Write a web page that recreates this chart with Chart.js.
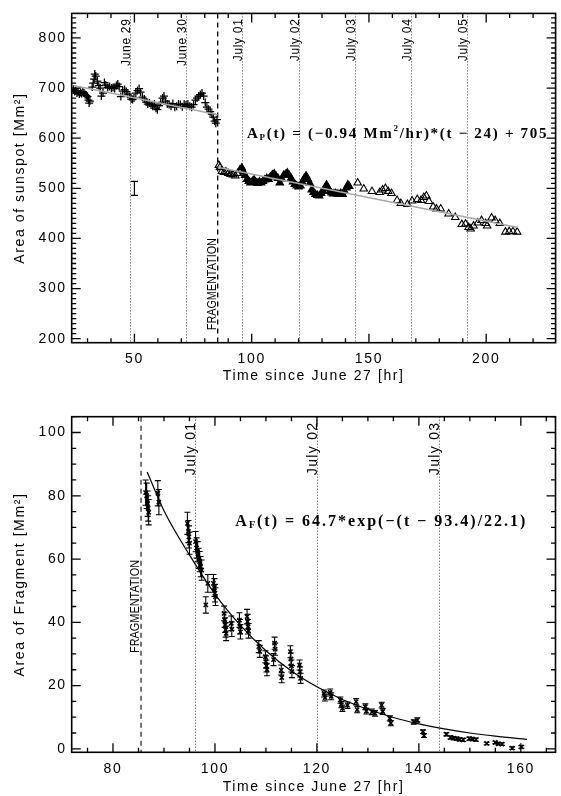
<!DOCTYPE html>
<html>
<head>
<meta charset="utf-8">
<script src="https://cdn.jsdelivr.net/npm/chart.js@4.4.1/dist/chart.umd.min.js"></script>
<style>
  html, body { margin: 0; padding: 0; background: #fff; }
  #wrap { position: relative; width: 561px; height: 796px; }
  .box { position: absolute; left: 0; width: 561px; }
  #top { top: 0; height: 385px; }
  #bot { top: 385px; height: 411px; }
</style>
</head>
<body>
<div id="wrap">
  <div class="box" id="top"><canvas id="c1"></canvas></div>
  <div class="box" id="bot"><canvas id="c2"></canvas></div>
</div>
<script>
// --- top panel: whole sunspot before fragmentation (crosses) ---
var spotT = [24.0, 24.5, 25.0, 25.5, 26.0, 26.5, 27.0, 27.5, 28.0, 28.5, 29.0, 29.5, 30.0, 30.4, 30.7, 31.0,
  32.0, 32.4, 32.8, 33.1, 33.5, 34.2, 34.8, 35.4, 35.9, 36.6, 37.2, 37.8, 38.6, 39.4, 40.2, 40.9, 41.6,
  42.3, 42.9, 43.5, 44.2, 45.0, 45.8, 46.5, 47.2, 48.0, 48.6, 49.2, 49.8, 50.6, 51.3, 52.0, 52.6, 53.4,
  54.2, 55.0, 55.7, 56.4, 57.1, 57.8, 58.5, 59.2, 59.8, 60.5, 61.2, 62.0, 62.6, 63.3, 64.0, 64.8, 65.6,
  66.4, 67.2, 68.0, 68.8, 69.6, 70.4, 71.2, 72.0, 72.8, 73.6, 74.4, 75.2, 76.0, 76.7, 77.4, 78.1, 78.8,
  79.5, 80.2, 80.9, 81.6, 82.3, 83.0, 83.6, 84.2, 84.7, 85.2];
var spotA = [698, 693, 695, 690, 692, 688, 691, 689, 693, 690, 687, 685, 683, 676, 670, 674,
  702, 710, 718, 728, 724, 714, 705, 700, 684, 690, 711, 706, 701, 703, 700, 701, 699,
  705, 708, 703, 683, 694, 697, 693, 688, 683, 678, 677, 680, 690, 695, 699, 692, 682,
  678, 672, 668, 670, 666, 664, 668, 660, 657, 665, 671, 680, 684, 674, 668, 667, 664,
  669, 662, 664, 668, 667, 663, 668, 666, 668, 664, 662, 667, 676, 680, 684, 687, 690,
  684, 671, 662, 658, 653, 648, 642, 634, 630, 637];

// --- top panel: remaining spot after fragmentation (triangles) ---
var fragT = [86.0, 86.5, 87.3, 88.2, 89.0, 90.0, 91.0, 92.0, 93.0, 94.0, 95.0, 95.8, 96.5, 97.2, 98.0,
  98.8, 99.5, 100.3, 101.0, 101.8, 102.5, 103.3, 104.0, 104.8, 105.6, 106.4, 107.2, 108.0, 108.8,
  109.6, 110.4, 111.2, 112.0, 112.8, 113.6, 114.4, 115.2, 116.0, 116.8, 117.6, 118.4, 119.2, 120.0,
  120.8, 121.6, 122.4, 123.2, 124.0, 124.8, 125.6, 126.4, 127.2, 128.0, 128.8, 129.6, 130.4, 131.2,
  131.9, 132.6, 133.3, 134.0, 134.8, 135.6, 136.4, 137.2, 138.0, 138.8, 139.6, 140.4, 141.0, 141.6,
  145.2, 147.8, 151.3, 154.6, 155.8, 157.0, 158.2, 159.6, 162.0, 163.6, 166.4, 168.4, 170.6, 172.2,
  173.4, 174.5, 175.6, 177.4, 178.8, 180.6, 184.0, 186.8, 189.6, 191.2, 192.5, 193.4, 194.6, 196.4,
  198.0, 199.8, 200.4, 202.3, 203.8, 205.8, 208.2, 209.8, 211.4, 213.2];
var fragA = [546, 542, 534, 532, 533, 530, 528, 527, 525, 530, 537, 541, 533, 526, 518,
  514, 511, 514, 517, 512, 510, 513, 511, 514, 517, 520, 518, 523, 527,
  529, 524, 520, 511, 519, 526, 528, 531, 526, 520, 513, 508, 505, 503,
  505, 512, 520, 525, 518, 510, 497, 492, 488, 486, 485, 490, 494, 500,
  507, 500, 494, 491, 489, 490, 489, 488, 490, 488, 494, 501, 507, 504,
  511, 499, 494, 492, 497, 500, 494, 490, 476, 470, 468, 475, 478, 476,
  482, 485, 474, 463, 459, 459, 449, 442, 428, 429, 422, 419, 425, 431,
  436, 430, 425, 441, 436, 430, 413, 414, 414, 413];

// straight-line fits (grey) and the typical error bar
var fitT1 = [24, 85.5], fitA1 = [705, 647];
var fitT2 = [85.5, 213.5], fitA2 = [542, 422];
var barT = [50, 50], barA = [486, 514];

// --- bottom panel: fragment area with error bars ---
var pieceT = [86.4, 86.6, 86.8, 86.9, 87.0, 88.8, 89.0, 94.6, 94.8, 94.9, 95.0, 96.2, 96.4, 96.6, 96.8,
  97.0, 97.2, 97.4, 98.2, 98.6, 99.7, 99.9, 100.0, 100.1, 101.8, 101.9, 102.0, 102.1, 102.2, 103.2,
  103.3, 104.8, 104.9, 105.0, 106.3, 106.4, 106.5, 106.6, 108.6, 108.8, 109.9, 110.0, 110.1, 110.2,
  111.5, 111.7, 111.8, 113.0, 113.1, 114.8, 114.9, 115.0, 115.1, 116.6, 116.7, 116.8, 121.4, 121.6,
  122.6, 122.8, 124.6, 124.8, 125.0, 126.0, 127.7, 127.9, 129.5, 129.7, 130.8, 131.4, 132.7, 132.9,
  134.3, 134.5, 139.0, 139.7, 140.8, 141.0, 145.4, 146.2, 146.8, 147.4, 148.0, 148.7, 149.9, 150.5,
  151.2, 153.3, 155.0, 155.6, 156.3, 158.3, 160.1];
var pieceA = [81, 80, 77.5, 76, 74.8, 80.8, 78, 71.3, 68.7, 67, 65, 65.5, 63.5, 62.3, 60.2,
  59.2, 57.6, 56.5, 45.5, 52.3, 52.3, 51, 49.2, 48.1, 42.8, 40.7, 39.1, 37.6, 36.5, 39.7,
  37.8, 40.7, 38.6, 37, 41.8, 40.2, 38.6, 37.3, 32.3, 30.8, 29.1, 27.5, 26.2, 25,
  28.2, 33.4, 31.5, 24.9, 22.5, 30.7, 28.4, 26.2, 24.4, 26.5, 24.3, 22.3, 17.5, 16.2,
  17.8, 16.6, 15.4, 14, 12.8, 13.8, 14.9, 12.4, 13.3, 11.9, 11.7, 11.2, 13.8, 11.8,
  9.6, 8.1, 8.5, 9.1, 5.4, 4.2, 4.6, 3.6, 3.4, 3.2, 3.0, 2.8, 3.2, 3.1,
  2.9, 1.7, 2.0, 1.6, 1.5, 0.2, 0.6];
var pieceErr = [4, 4, 4, 4, 4, 4, 4, 3.5, 3.5, 3.5, 3.5, 3.2, 3.2, 3.2, 3.2,
  3.2, 3.2, 3.2, 2.6, 2.8, 2.8, 2.8, 2.8, 2.8, 2.3, 2.3, 2.3, 2.3, 2.3, 2.3,
  2.3, 2.3, 2.3, 2.3, 2.3, 2.3, 2.3, 2.3, 1.9, 1.9, 1.9, 1.9, 1.9, 1.9,
  1.9, 1.9, 1.9, 1.6, 1.6, 1.9, 1.9, 1.9, 1.9, 1.6, 1.6, 1.6, 1.1, 1.1,
  1.1, 1.1, 1.0, 1.0, 1.0, 1.0, 1.0, 1.0, 0.9, 0.9, 0.9, 0.9, 0.9, 0.9,
  0.8, 0.8, 0.7, 0.7, 0.6, 0.6, 0.5, 0.5, 0.5, 0.5, 0.5, 0.5, 0.5, 0.5,
  0.5, 0.4, 0.4, 0.4, 0.4, 0.4, 0.4];

// exponential decay fit
var expT = [86.7, 90, 95, 100, 105, 110, 115, 120, 125, 130, 135, 140, 145, 150, 155, 161.2];
var expA = [87.5, 75.3, 61.3, 48.9, 39.0, 31.0, 24.6, 19.6, 15.6, 12.5, 9.9, 7.9, 6.3, 5.0, 4.0, 3.0];

// day marks and fragmentation time (hours since June 27)
var dateT = [48, 72, 96, 120, 144, 168, 192];
var dateLabels = ['June 29', 'June 30', 'July 01', 'July 02', 'July 03', 'July 04', 'July 05'];
var fragTime = 85.5;

var topXTicks = [50, 100, 150, 200];
var topYTicks = [200, 300, 400, 500, 600, 700, 800];
var botXTicks = [80, 100, 120, 140, 160];
var botYTicks = [0, 20, 40, 60, 80, 100];

var SANS = '"Liberation Sans", Arial, sans-serif';
var SERIF = '"Liberation Serif", "Times New Roman", serif';

function pts(xs, ys) {
  return xs.map(function (v, i) { return { x: v, y: ys[i] }; });
}

// box round the plot with inward ticks, like the IDL plot
var framePlugin = {
  id: 'frame',
  beforeDraw: function (chart) {
    chart.ctx.letterSpacing = '1.6px';
  },
  afterDatasetsDraw: function (chart, args, o) {
    var ctx = chart.ctx, a = chart.chartArea, sx = chart.scales.x, sy = chart.scales.y;
    ctx.save();
    ctx.strokeStyle = '#000';
    ctx.lineWidth = 1.3;
    ctx.setLineDash([]);
    ctx.beginPath();
    function minors(s, step) {
      var out = [];
      for (var v = Math.ceil(s.min / step) * step; v <= s.max; v += step) out.push(v);
      return out;
    }
    function xt(vals, len) {
      vals.forEach(function (v) {
        var p = sx.getPixelForValue(v);
        ctx.moveTo(p, a.bottom); ctx.lineTo(p, a.bottom - len);
        ctx.moveTo(p, a.top); ctx.lineTo(p, a.top + len);
      });
    }
    function yt(vals, len) {
      vals.forEach(function (v) {
        var p = sy.getPixelForValue(v);
        ctx.moveTo(a.left, p); ctx.lineTo(a.left + len, p);
        ctx.moveTo(a.right, p); ctx.lineTo(a.right - len, p);
      });
    }
    xt(minors(sx, o.xMinor), 4.5);
    xt(sx.ticks.map(function (t) { return t.value; }), 9);
    yt(minors(sy, o.yMinor), 4.5);
    yt(sy.ticks.map(function (t) { return t.value; }), 9);
    ctx.stroke();
    ctx.lineWidth = 1.6;
    ctx.strokeRect(a.left, a.top, a.right - a.left, a.bottom - a.top);
    ctx.restore();
  }
};

// error bars with caps for datasets carrying an errs array
var errPlugin = {
  id: 'errs',
  beforeDatasetsDraw: function (chart) {
    var ctx = chart.ctx, sx = chart.scales.x, sy = chart.scales.y;
    ctx.save();
    ctx.strokeStyle = '#000';
    ctx.lineWidth = 1.1;
    ctx.beginPath();
    chart.data.datasets.forEach(function (ds) {
      if (!ds.errs) return;
      ds.data.forEach(function (p, i) {
        var x = sx.getPixelForValue(p.x);
        var y1 = sy.getPixelForValue(p.y - ds.errs[i]);
        var y2 = sy.getPixelForValue(p.y + ds.errs[i]);
        ctx.moveTo(x, y1); ctx.lineTo(x, y2);
        ctx.moveTo(x - 3, y1); ctx.lineTo(x + 3, y1);
        ctx.moveTo(x - 3, y2); ctx.lineTo(x + 3, y2);
      });
    });
    ctx.stroke();
    ctx.restore();
  }
};

function drawRich(ctx, parts, x, y, size) {
  parts.forEach(function (p) {
    var s = (p.sub || p.sup) ? Math.round(size * 0.62) : size;
    ctx.font = 'bold ' + s + 'px ' + SERIF;
    var dy = p.sub ? size * 0.12 : (p.sup ? -size * 0.42 : 0);
    ctx.fillText(p.t, x, y + dy);
    x += ctx.measureText(p.t).width;
  });
}

// day lines, fragmentation line, their labels and the fit formula
var marksPlugin = {
  id: 'marks',
  beforeDatasetsDraw: function (chart, args, o) {
    var ctx = chart.ctx, a = chart.chartArea, sx = chart.scales.x, sy = chart.scales.y;
    ctx.save();
    ctx.fillStyle = '#000';
    dateT.forEach(function (t, i) {
      if (t < o.dateFrom || t > sx.max) return;
      var px = Math.round(sx.getPixelForValue(t)) + 0.5;
      ctx.strokeStyle = '#444';
      ctx.lineWidth = 1;
      ctx.setLineDash([1, 2]);
      ctx.beginPath(); ctx.moveTo(px, a.top); ctx.lineTo(px, a.bottom); ctx.stroke();
      ctx.save();
      ctx.translate(px - 1, a.top + 5);
      ctx.rotate(-Math.PI / 2);
      ctx.letterSpacing = o.dateSpacing;
      ctx.font = o.dateSize + 'px ' + SANS;
      ctx.textAlign = 'right';
      ctx.textBaseline = 'alphabetic';
      ctx.fillText(dateLabels[i], 0, 0);
      ctx.restore();
    });
    var fx = sx.getPixelForValue(fragTime);
    ctx.strokeStyle = o.fragColor;
    ctx.lineWidth = o.fragWidth;
    ctx.setLineDash([5, 4]);
    ctx.beginPath(); ctx.moveTo(fx, a.top); ctx.lineTo(fx, a.bottom); ctx.stroke();
    ctx.setLineDash([]);
    ctx.save();
    ctx.translate(fx - 2, sy.getPixelForValue(o.fragLabelA));
    ctx.rotate(-Math.PI / 2);
    ctx.letterSpacing = '0px';
    ctx.font = '13px ' + SANS;
    ctx.textAlign = 'left';
    ctx.fillText('FRAGMENTATION', 0, 0, o.fragLabelLen);
    ctx.restore();
    ctx.letterSpacing = o.noteSpacing;
    ctx.textAlign = 'left';
    drawRich(ctx, o.note, sx.getPixelForValue(o.noteT), sy.getPixelForValue(o.noteA), o.noteSize);
    ctx.restore();
  }
};

function tickFont() { return { family: SANS, size: 14 }; }

function makeChart(id, datasets, ax) {
  return new Chart(document.getElementById(id).getContext('2d'), {
    type: 'scatter',
    data: { datasets: datasets },
    plugins: [marksPlugin, errPlugin, framePlugin],
    options: {
      responsive: true,
      maintainAspectRatio: false,
      animation: false,
      layout: { padding: { top: ax.padTop, right: 1, left: 0, bottom: 0 } },
      plugins: {
        legend: { display: false },
        tooltip: { enabled: false },
        frame: { xMinor: ax.xMinor, yMinor: ax.yMinor },
        marks: ax.marks
      },
      scales: {
        x: {
          type: 'linear', min: ax.xMin, max: ax.xMax,
          grid: { display: false, drawTicks: false }, border: { display: false },
          afterBuildTicks: function (s) { s.ticks = ax.xTicks.map(function (v) { return { value: v }; }); },
          afterFit: function (s) { s.height = ax.xH; },
          ticks: { font: tickFont(), color: '#000', padding: 8, maxRotation: 0, autoSkip: false },
          title: { display: true, text: 'Time since June 27 [hr]', color: '#000',
            font: { family: SANS, size: 14 }, padding: { top: 0, bottom: 0 } }
        },
        y: {
          type: 'linear', min: ax.yMin, max: ax.yMax,
          grid: { display: false, drawTicks: false }, border: { display: false },
          afterBuildTicks: function (s) { s.ticks = ax.yTicks.map(function (v) { return { value: v }; }); },
          afterFit: function (s) { s.width = 71.7; },
          ticks: { font: tickFont(), color: '#000', padding: 5, autoSkip: false },
          title: { display: true, text: ax.yTitle, color: '#000',
            font: { family: SANS, size: 14 }, padding: { top: 12, bottom: 0 } }
        }
      }
    }
  });
}

makeChart('c1', [
  { data: pts(fitT1, fitA1), showLine: true, borderColor: '#a8a8a8', borderWidth: 1.5, pointRadius: 0 },
  { data: pts(fitT2, fitA2), showLine: true, borderColor: '#a8a8a8', borderWidth: 1.5, pointRadius: 0 },
  { data: pts(spotT, spotA), pointStyle: 'cross', pointRadius: 4, borderColor: '#000', borderWidth: 1.3 },
  { data: pts(fragT, fragA), pointStyle: 'triangle', pointRadius: 4.3, borderColor: '#000', borderWidth: 1.1,
    backgroundColor: function (c) { var p = c.raw; return p && p.x > 95.5 && p.x < 142 ? '#000' : 'rgba(0,0,0,0)'; } },
  { data: pts(barT, barA), showLine: true, borderColor: '#000', borderWidth: 1.2,
    pointStyle: 'line', pointRadius: 3.5, pointBorderColor: '#000', pointBorderWidth: 1.2 }
], {
  padTop: 7, xH: 42.3, xMin: 23.25, xMax: 229.6, yMin: 192, yMax: 849,
  xTicks: topXTicks, yTicks: topYTicks, xMinor: 10, yMinor: 10,
  yTitle: 'Area of sunspot [Mm\u00B2]',
  marks: {
    dateFrom: 0, dateSize: 12, dateSpacing: '0.7px', fragColor: '#000', fragWidth: 1.3,
    fragLabelA: 217, fragLabelLen: 92, noteT: 98, noteA: 601, noteSize: 15, noteSpacing: '1.7px',
    note: [{ t: 'A' }, { t: 'P', sub: true }, { t: '(t) = (\u22120.94 Mm' }, { t: '2', sup: true },
      { t: '/hr)*(t \u2212 24) + 705' }]
  }
});

makeChart('c2', [
  { data: pts(expT, expA), showLine: true, borderColor: '#000', borderWidth: 1.2, pointRadius: 0,
    cubicInterpolationMode: 'monotone' },
  { data: pts(pieceT, pieceA), errs: pieceErr, pointStyle: 'crossRot', pointRadius: 3,
    borderColor: '#000', borderWidth: 1.5 }
], {
  padTop: 31.7, xH: 43.7, xMin: 71.9, xMax: 166.8, yMin: -1.1, yMax: 105,
  xTicks: botXTicks, yTicks: botYTicks, xMinor: 5, yMinor: 5,
  yTitle: 'Area of Fragment [Mm\u00B2]',
  marks: {
    dateFrom: 90, dateSize: 14, dateSpacing: '1.3px', fragColor: '#555', fragWidth: 1.6,
    fragLabelA: 30.3, fragLabelLen: 93, noteT: 104, noteA: 70.3, noteSize: 16, noteSpacing: '2px',
    note: [{ t: 'A' }, { t: 'F', sub: true }, { t: '(t) = 64.7*exp(\u2212(t \u2212 93.4)/22.1)' }]
  }
});
</script>
</body>
</html>
